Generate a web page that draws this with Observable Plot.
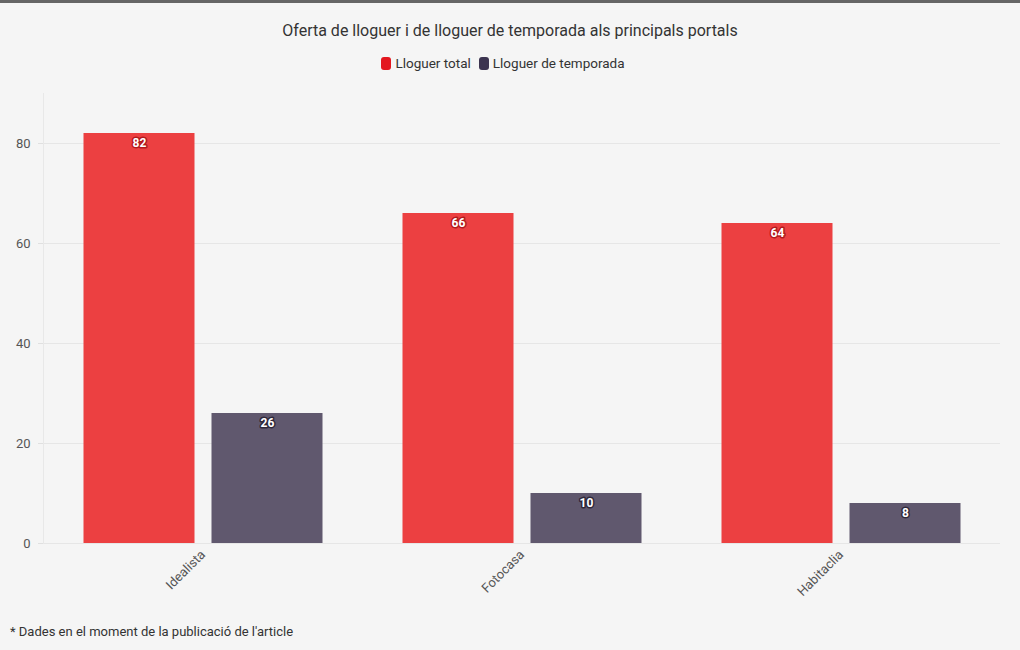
<!DOCTYPE html>
<html>
<head>
<meta charset="utf-8">
<script src="https://cdn.jsdelivr.net/npm/d3@7"></script>
<script src="https://cdn.jsdelivr.net/npm/@observablehq/plot@0.6"></script>
<style>
  html, body { margin: 0; padding: 0; background: #f5f5f5; }
  body { width: 1020px; height: 650px; position: relative; overflow: hidden; font-family: Roboto, "Noto Sans", sans-serif; }
  #topbar { position: absolute; left: 0; top: 0; width: 1020px; height: 3px; background: #666; }
  #title { position: absolute; top: 21px; width: 1020px; text-align: center; font-size: 16px; color: #333; }
  #legend { position: absolute; top: 55px; left: -7px; width: 1020px; text-align: center; font-size: 13.5px; color: #333; }
  #legend span.item { display: inline-flex; align-items: center; margin: 0 4px; }
  #legend span.sw { display: inline-block; width: 10px; height: 13px; border-radius: 3px; margin-right: 4px; }
  #chart { position: absolute; top: 80px; left: 0; }
  #caption { position: absolute; top: 624px; left: 10px; font-size: 13px; color: #333; }
</style>
</head>
<body>
<div id="topbar"></div>
<div id="title"></div>
<div id="legend"></div>
<div id="chart"></div>
<div id="caption"></div>
<script>
const titleText = "Oferta de lloguer i de lloguer de temporada als principals portals";
const captionText = "* Dades en el moment de la publicació de l'article";
const portals = ["Idealista", "Fotocasa", "Habitaclia"];
const series = ["Lloguer total", "Lloguer de temporada"];
const totalValues = [82, 66, 64];
const seasonalValues = [26, 10, 8];
const yTicks = [0, 20, 40, 60, 80];
const barColors = ["#ec4041", "#60586e"];
const labelStrokes = ["#b3191c", "#2f283a"];
const legendColors = ["#e3171f", "#3c3450"];

document.getElementById("title").textContent = titleText;
document.getElementById("caption").textContent = captionText;
const legend = document.getElementById("legend");
series.forEach((s, i) => {
  const item = document.createElement("span");
  item.className = "item";
  const sw = document.createElement("span");
  sw.className = "sw";
  sw.style.background = legendColors[i];
  item.appendChild(sw);
  item.appendChild(document.createTextNode(s));
  legend.appendChild(item);
});

const data = [];
portals.forEach((p, i) => {
  data.push({portal: p, series: series[0], value: totalValues[i]});
  data.push({portal: p, series: series[1], value: seasonalValues[i]});
});

const chart = Plot.plot({
  width: 1020,
  height: 535,
  marginTop: 13,
  marginLeft: 43,
  marginRight: 20,
  marginBottom: 72,
  style: {background: "transparent", fontFamily: "Roboto, 'Noto Sans', sans-serif", fontSize: "13px", color: "#555"},
  fx: {domain: portals, padding: 0, label: null},
  x: {domain: series, paddingInner: 0.133, paddingOuter: 0.3125, axis: null},
  y: {domain: [0, 90], ticks: yTicks, label: null},
  color: {domain: series, range: barColors},
  marks: [
    Plot.gridY(yTicks, {stroke: "#e6e6e6", strokeOpacity: 1}),
    Plot.frame({anchor: "left", facetAnchor: "left", stroke: "#e8e8e8"}),
    Plot.axisY({ticks: yTicks, tickSize: 5, tickPadding: 8, stroke: "#e0e0e0", fill: "#555", fontSize: 13, label: null}),
    Plot.axisFx({anchor: "bottom", tickRotate: -45, tickSize: 0, tickPadding: 9, fontSize: 13, fill: "#555", label: null}),
    Plot.barY(data, {fx: "portal", x: "series", y: "value", fill: "series", dx: 0.5}),
    Plot.text(data, {
      fx: "portal", x: "series", y: "value", text: d => String(d.value),
      dy: 10, dx: 0.5, fill: "white", fontWeight: "bold", fontSize: 12,
      stroke: d => labelStrokes[series.indexOf(d.series)], strokeWidth: 3, paintOrder: "stroke"
    })
  ]
});
document.getElementById("chart").appendChild(chart);
</script>
</body>
</html>
